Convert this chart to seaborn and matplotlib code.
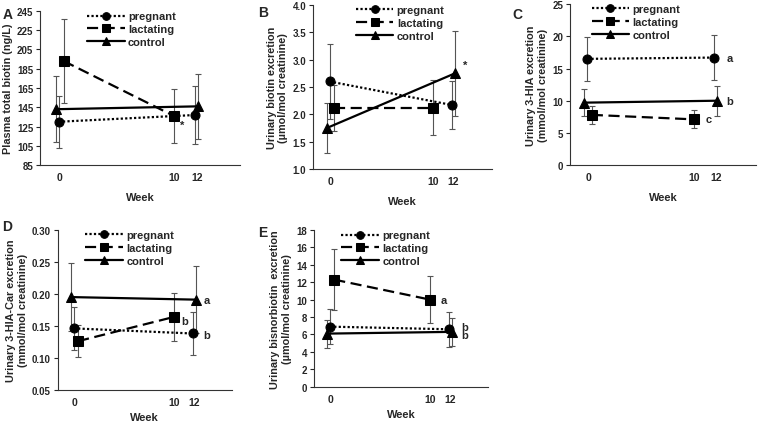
import pandas as pd
import numpy as np
import matplotlib
matplotlib.use("Agg")
import matplotlib.pyplot as plt
import seaborn as sns

# weeks sampled per group
weeks_preg = [0, 12]
weeks_lact = [0, 10]
weeks_ctrl = [0, 12]
week_ticks = [0, 10, 12]
groups = ["pregnant", "lactating", "control"]

# A: plasma total biotin (ng/L)
A_preg, A_preg_err = [130, 137], [27, 30]
A_lact, A_lact_err = [193, 136], [44, 28]
A_ctrl, A_ctrl_err = [143, 146], [34, 34]
# B: urinary biotin (umol/mol creatinine)
B_preg, B_preg_err = [2.60, 2.17], [0.68, 0.43]
B_lact, B_lact_err = [2.12, 2.12], [0.42, 0.50]
B_ctrl, B_ctrl_err = [1.75, 2.75], [0.45, 0.78]
# C: urinary 3-HIA (mmol/mol creatinine)
C_preg, C_preg_err = [16.5, 16.7], [3.4, 3.5]
C_lact, C_lact_err = [7.8, 7.1], [1.4, 1.4]
C_ctrl, C_ctrl_err = [9.7, 10.0], [2.1, 2.3]
# D: urinary 3-HIA-Car (mmol/mol creatinine)
D_preg, D_preg_err = [0.146, 0.138], [0.034, 0.034]
D_lact, D_lact_err = [0.126, 0.164], [0.025, 0.037]
D_ctrl, D_ctrl_err = [0.195, 0.191], [0.053, 0.052]
# E: urinary bisnorbiotin (umol/mol creatinine)
E_preg, E_preg_err = [6.9, 6.6], [2.0, 2.0]
E_lact, E_lact_err = [12.3, 10.0], [3.5, 2.7]
E_ctrl, E_ctrl_err = [6.1, 6.3], [1.6, 1.6]

# small horizontal offsets so the markers don't sit on top of each other
offsets = {"pregnant": [-0.1, -0.15], "lactating": [0.35, 0.0], "control": [-0.35, 0.15]}

sns.set_style("ticks")
plt.rcParams["font.family"] = ["Liberation Sans", "DejaVu Sans"]
plt.rcParams["font.weight"] = "bold"
plt.rcParams["axes.labelweight"] = "bold"


def make_df(preg, preg_err, lact, lact_err, ctrl, ctrl_err):
    rows = []
    for g, wk, val, err in [("pregnant", weeks_preg, preg, preg_err),
                            ("lactating", weeks_lact, lact, lact_err),
                            ("control", weeks_ctrl, ctrl, ctrl_err)]:
        for i, (w, v, e) in enumerate(zip(wk, val, err)):
            rows.append({"group": g, "week": w, "x": w + offsets[g][i], "y": v, "err": e})
    return pd.DataFrame(rows)


def draw_panel(ax, df, ylim, yticks, yfmt, ylabel, notes, legend_anchor, xpad=7):
    for g in groups:
        sub = df[df.group == g]
        ax.errorbar(sub.x, sub.y, yerr=sub.err, fmt="none", ecolor="#555555",
                    elinewidth=0.8, capsize=2.5, capthick=0.8, zorder=1)
    sns.lineplot(data=df, x="x", y="y", style="group", style_order=groups,
                 markers={"pregnant": "o", "lactating": "s", "control": "^"},
                 dashes={"pregnant": (1, 1), "lactating": (5, 2.5), "control": ""},
                 color="black", markersize=6.5, markeredgecolor="black",
                 linewidth=1.6, sort=False, errorbar=None, ax=ax, zorder=3)
    handles, labels = ax.get_legend_handles_labels()
    keep = [(h, l) for h, l in zip(handles, labels) if l in groups]
    ax.legend([h for h, _ in keep], [l for _, l in keep], loc="upper left",
              bbox_to_anchor=legend_anchor, frameon=False, handlelength=3.4,
              handletextpad=0.3, labelspacing=0.25, borderpad=0.1,
              markerscale=0.85, prop={"size": 8, "weight": "bold"})
    ax.set_xlim(-1.7, 15.8)
    ax.set_ylim(*ylim)
    ax.set_xticks(week_ticks)
    ax.set_xticklabels([str(w) for w in week_ticks])
    ax.set_yticks(yticks)
    ax.set_yticklabels([yfmt.format(t) for t in yticks])
    ax.tick_params(axis="x", length=0, pad=5, labelsize=7.5)
    ax.tick_params(axis="y", length=3, width=0.8, pad=2, labelsize=7)
    ax.set_xlabel("Week", fontsize=8, labelpad=xpad)
    ax.set_ylabel(ylabel, fontsize=7.8, labelpad=3)
    for sp in ["left", "bottom"]:
        ax.spines[sp].set_linewidth(0.8)
        ax.spines[sp].set_color("#333333")
    sns.despine(ax=ax)
    for x, y, s in notes:
        ax.text(x, y, s, fontsize=8, fontweight="bold", va="center", ha="left")
    return ax


fig = plt.figure(figsize=(7.6, 4.27), dpi=100)

axA = fig.add_axes([0.053, 0.611, 0.263, 0.361])
draw_panel(axA, make_df(A_preg, A_preg_err, A_lact, A_lact_err, A_ctrl, A_ctrl_err),
           (85, 245), np.arange(85, 246, 20), "{:.0f}", "Plasma total biotin (ng/L)",
           [(10.5, 127, "*")], (0.2, 1.04))
axB = fig.add_axes([0.412, 0.602, 0.236, 0.384])
draw_panel(axB, make_df(B_preg, B_preg_err, B_lact, B_lact_err, B_ctrl, B_ctrl_err),
           (1.0, 4.0), np.arange(1.0, 4.01, 0.5), "{:.1f}",
           "Urinary biotin excretion\n(µmol/mol creatinine)",
           [(12.9, 2.9, "*")], (0.2, 1.04))
axC = fig.add_axes([0.75, 0.611, 0.245, 0.377])
draw_panel(axC, make_df(C_preg, C_preg_err, C_lact, C_lact_err, C_ctrl, C_ctrl_err),
           (0, 25), np.arange(0, 26, 5), "{:.0f}",
           "Urinary 3-HIA excretion\n(mmol/mol creatinine)",
           [(13.0, 16.7, "a"), (13.0, 10.0, "b"), (11.0, 7.1, "c")], (0.08, 1.04))
axD = fig.add_axes([0.076, 0.085, 0.229, 0.374])
draw_panel(axD, make_df(D_preg, D_preg_err, D_lact, D_lact_err, D_ctrl, D_ctrl_err),
           (0.05, 0.30), np.arange(0.05, 0.301, 0.05), "{:.2f}",
           "Urinary 3-HIA-Car excretion\n(mmol/mol creatinine)",
           [(13.0, 0.191, "a"), (10.7, 0.158, "b"), (12.9, 0.135, "b")], (0.12, 1.04),
           xpad=4)
axE = fig.add_axes([0.413, 0.092, 0.229, 0.367])
draw_panel(axE, make_df(E_preg, E_preg_err, E_lact, E_lact_err, E_ctrl, E_ctrl_err),
           (0, 18), np.arange(0, 19, 2), "{:.0f}",
           "Urinary bisnorbiotin  excretion\n(µmol/mol creatinine)",
           [(13.1, 6.9, "b"), (13.1, 5.9, "b"), (11.0, 10.0, "a")], (0.12, 1.04),
           xpad=4)

# panel letters in figure coordinates
for txt, (x, y) in {"A": (0.003, 0.965), "B": (0.34, 0.97), "C": (0.674, 0.965),
                    "D": (0.003, 0.468), "E": (0.34, 0.455)}.items():
    fig.text(x, y, txt, fontsize=10, fontweight="bold", va="center")

fig.savefig("out.png", dpi=100)
